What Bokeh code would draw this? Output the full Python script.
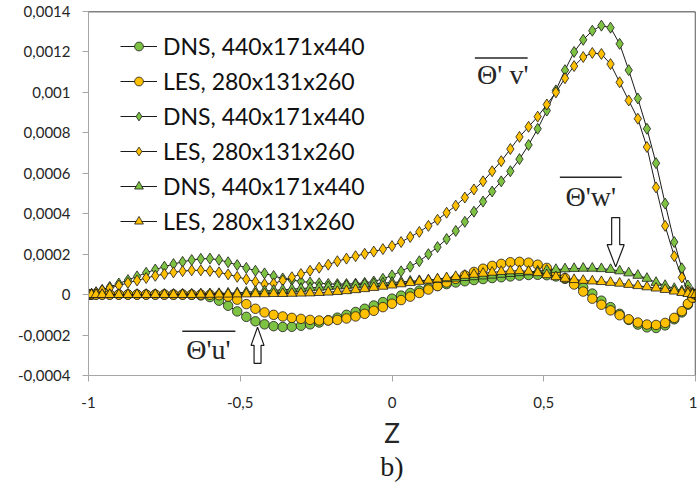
from bokeh.plotting import figure
from bokeh.models import (Range1d, FixedTicker, CustomJSTickFormatter, Legend,
                          LegendItem, Label, Span, Title)
from bokeh.embed import file_html
from bokeh.resources import INLINE

# ---------------- data (values in units of 1e-4) ----------------
z = [-1, -0.99, -0.975, -0.955, -0.93, -0.9, -0.87, -0.84, -0.81, -0.78,
     -0.75, -0.72, -0.69, -0.66, -0.63, -0.6, -0.57, -0.54, -0.51, -0.48,
     -0.45, -0.42, -0.39, -0.36, -0.33, -0.3, -0.27, -0.24, -0.21, -0.18,
     -0.15, -0.12, -0.09, -0.06, -0.03, 0, 0.03, 0.06, 0.09, 0.12,
     0.15, 0.18, 0.21, 0.24, 0.27, 0.3, 0.33, 0.36, 0.39, 0.42,
     0.45, 0.48, 0.51, 0.54, 0.57, 0.6, 0.63, 0.66, 0.69, 0.72,
     0.75, 0.78, 0.81, 0.84, 0.87, 0.9, 0.93, 0.955, 0.975, 0.99,
     1]

dns_u = [0, 0, 0, 0, 0, 0, 0, 0, 0, 0,
         0, 0, 0, -0.01, -0.04, -0.12, -0.3, -0.55, -0.83, -1.1,
         -1.32, -1.47, -1.56, -1.6, -1.59, -1.54, -1.47, -1.38, -1.27, -1.14,
         -1.0, -0.86, -0.7, -0.54, -0.37, -0.2, -0.05, 0.08, 0.2, 0.32,
         0.43, 0.52, 0.6, 0.66, 0.72, 0.77, 0.82, 0.86, 0.9, 0.94,
         0.97, 0.98, 0.96, 0.9, 0.78, 0.6, 0.35, 0.05, -0.3, -0.62,
         -0.95, -1.25, -1.48, -1.62, -1.65, -1.52, -1.22, -0.88, -0.5, -0.17,
         0]
les_u = [0, 0, 0, 0, 0, 0, 0, 0, 0, 0,
         0, 0, 0, 0, 0, -0.01, -0.03, -0.1, -0.25, -0.47,
         -0.7, -0.88, -1.0, -1.08, -1.15, -1.2, -1.25, -1.28, -1.28, -1.25,
         -1.18, -1.08, -0.95, -0.8, -0.62, -0.45, -0.27, -0.1, 0.08, 0.25,
         0.42, 0.6, 0.78, 0.95, 1.12, 1.28, 1.42, 1.52, 1.6, 1.62,
         1.58, 1.48, 1.32, 1.1, 0.82, 0.5, 0.15, -0.2, -0.5, -0.78,
         -1.02, -1.22, -1.38, -1.48, -1.5, -1.4, -1.15, -0.82, -0.45, -0.15,
         0]
dns_v = [0, 0.04, 0.12, 0.24, 0.38, 0.55, 0.72, 0.9, 1.08, 1.24,
         1.38, 1.51, 1.62, 1.71, 1.77, 1.78, 1.72, 1.6, 1.46, 1.32,
         1.18, 1.05, 0.92, 0.8, 0.72, 0.65, 0.6, 0.56, 0.53, 0.52,
         0.52, 0.54, 0.58, 0.65, 0.78, 0.95, 1.15, 1.38, 1.65, 2.0,
         2.35, 2.75, 3.15, 3.6, 4.1, 4.6, 5.1, 5.6, 6.1, 6.7,
         7.4, 8.2, 9.1, 10.1, 11.1, 12.0, 12.6, 13.05, 13.3, 13.2,
         12.4, 11.1, 9.7, 8.2, 6.5, 4.5, 2.6, 1.3, 0.45, 0.12,
         0]
les_v = [0, 0.03, 0.1, 0.2, 0.32, 0.45, 0.58, 0.7, 0.82, 0.93,
         1.02, 1.1, 1.16, 1.2, 1.2, 1.17, 1.1, 1.0, 0.88, 0.76,
         0.64, 0.52, 0.55, 0.7, 0.86, 1.02, 1.18, 1.33, 1.48, 1.65,
         1.78, 1.9, 2.02, 2.13, 2.25, 2.4, 2.6, 2.85, 3.1, 3.4,
         3.7, 4.05, 4.4, 4.8, 5.2, 5.6, 6.1, 6.6, 7.2, 7.8,
         8.3, 8.8, 9.4, 10.0, 10.7, 11.3, 11.75, 11.95, 11.9, 11.4,
         10.5, 9.6, 8.7, 7.3, 5.3, 3.4, 1.9, 0.85, 0.2, 0.05,
         0]
dns_w = [0, 0, 0, 0, 0, 0, 0, 0, 0, 0,
         0.01, 0.01, 0.02, 0.02, 0.03, 0.04, 0.05, 0.07, 0.09, 0.12,
         0.15, 0.18, 0.21, 0.24, 0.27, 0.3, 0.33, 0.36, 0.39, 0.42,
         0.45, 0.48, 0.51, 0.54, 0.57, 0.6, 0.63, 0.66, 0.69, 0.72,
         0.75, 0.78, 0.81, 0.84, 0.88, 0.92, 0.96, 1.0, 1.04, 1.08,
         1.12, 1.16, 1.2, 1.24, 1.27, 1.29, 1.3, 1.3, 1.28, 1.24,
         1.17, 1.07, 0.95, 0.8, 0.6, 0.45, 0.3, 0.18, 0.08, 0.02,
         0]
les_w = [0, 0, 0, 0, 0, 0, 0, 0, 0, 0,
         0, 0, 0, 0, 0.01, 0.01, 0.02, 0.02, 0.03, 0.03,
         0.04, 0.04, 0.05, 0.05, 0.06, 0.07, 0.08, 0.1, 0.12, 0.15,
         0.19, 0.24, 0.29, 0.35, 0.41, 0.47, 0.53, 0.59, 0.65, 0.71,
         0.77, 0.83, 0.89, 0.95, 1.0, 1.05, 1.1, 1.14, 1.17, 1.18,
         1.15, 1.08, 0.98, 0.88, 0.8, 0.74, 0.7, 0.67, 0.64, 0.6,
         0.56, 0.5, 0.44, 0.38, 0.32, 0.25, 0.17, 0.1, 0.05, 0.01,
         0]
UNIT = 1e-4

labels = ["DNS, 440x171x440", "LES, 280x131x260",
          "DNS, 440x171x440", "LES, 280x131x260",
          "DNS, 440x171x440", "LES, 280x131x260"]
x_ticks = [-1, -0.5, 0, 0.5, 1]
y_ticks = [-0.0004, -0.0002, 0, 0.0002, 0.0004, 0.0006, 0.0008, 0.001, 0.0012, 0.0014]

GREEN = "#7DC242"
YELLOW = "#FFC000"
EDGE = "#1a1a1a"

p = figure(width=697, height=488, output_backend="svg", toolbar_location=None,
           x_range=Range1d(-1, 1), y_range=Range1d(-0.0004, 0.0014),
           min_border_left=88, min_border_right=2, min_border_top=11,
           min_border_bottom=113)
p.xgrid.visible = False
p.ygrid.visible = False
p.outline_line_color = None
p.background_fill_color = "white"
p.border_fill_color = "white"

series = [
    (dns_u, "circle", GREEN, 9.5),
    (les_u, "circle", YELLOW, 9.5),
    (dns_v, "diamond", GREEN, 11),
    (les_v, "diamond", YELLOW, 11),
    (dns_w, "triangle", GREEN, 10),
    (les_w, "triangle", YELLOW, 10),
]

items = []
for (vals, marker, color, size), lab in zip(series, labels):
    yv = [v * UNIT for v in vals]
    lr = p.line(z, yv, line_color=EDGE, line_width=1)
    sr = p.scatter(z, yv, marker=marker, size=size,
                   fill_color=color, line_color=EDGE, line_width=0.8)
    items.append(LegendItem(label=lab, renderers=[lr, sr]))

legend = Legend(items=items, location=(32, 139), glyph_width=37, glyph_height=22,
                label_height=30, spacing=5, label_standoff=6, padding=0, margin=0,
                border_line_color=None, background_fill_alpha=0,
                label_text_font="Lato", label_text_font_size="23px",
                label_text_color="#111111")
p.add_layout(legend)

# frame top / right border
p.add_layout(Span(location=0.0014, dimension="width", line_color="black", line_width=1.3))
p.add_layout(Span(location=1, dimension="height", line_color="black", line_width=1.3))

fmt4 = CustomJSTickFormatter(code="return parseFloat(tick.toFixed(4)).toString().replace('.', ',');")
fmt2 = CustomJSTickFormatter(code="return parseFloat(tick.toFixed(2)).toString().replace('.', ',');")
p.yaxis.ticker = FixedTicker(ticks=y_ticks)
p.xaxis.ticker = FixedTicker(ticks=x_ticks)
p.yaxis.formatter = fmt4
p.xaxis.formatter = fmt2
for ax in (p.xaxis, p.yaxis):
    ax.axis_line_color = "#A6A6A6"
    ax.major_tick_line_color = "#A6A6A6"
    ax.major_tick_out = 6
    ax.major_tick_in = 0
    ax.minor_tick_line_color = None
    ax.major_label_text_font = "Lato"
    ax.major_label_text_font_size = "15px"
    ax.major_label_text_color = "#262626"
p.yaxis.major_label_standoff = 12
p.xaxis.major_label_standoff = 15
p.xaxis.axis_label = "Z"
p.xaxis.axis_label_standoff = 6
p.xaxis.axis_label_text_font = "Lato"
p.xaxis.axis_label_text_font_size = "26px"
p.xaxis.axis_label_text_font_style = "normal"
p.xaxis.axis_label_text_color = "#262626"

# panel caption below the axis title
p.add_layout(Title(text="b)", align="center", text_font="Liberation Serif",
                   text_font_size="28px", text_font_style="normal",
                   text_color="#1a1a1a", standoff=-6), "below")

# annotations: labels with overlines and hollow arrows
ann_font = "Liberation Serif"
notes = [("Θ' v'", 0.365, 0.001087, 0.273, 0.447, 0.00117),
         ("Θ'w'", 0.655, 0.000485, 0.553, 0.757, 0.00058),
         ("Θ'u'", -0.605, -0.00027, -0.691, -0.516, -0.000181)]
for txt, tx, ty, ox0, ox1, oy in notes:
    p.add_layout(Label(x=tx, y=ty, text=txt, text_align="center",
                       text_baseline="middle", text_font=ann_font,
                       text_font_size="28px", text_color="#262626"))
    p.segment(x0=[ox0], y0=[oy], x1=[ox1], y1=[oy], line_color="#262626", line_width=1.4)

arrow_up_x = [-0.443, -0.4644, -0.4545, -0.4545, -0.4315, -0.4315, -0.4216]
arrow_up_y = [-0.000161, -0.000251, -0.000251, -0.00034, -0.00034, -0.000251, -0.000251]
arrow_dn_x = [0.737, 0.709, 0.7238, 0.7238, 0.7502, 0.7502, 0.765]
arrow_dn_y = [0.000137, 0.000247, 0.000247, 0.000381, 0.000381, 0.000247, 0.000247]
p.patch(arrow_up_x, arrow_up_y, fill_color="white", line_color="#1a1a1a", line_width=1.2)
p.patch(arrow_dn_x, arrow_dn_y, fill_color="white", line_color="#1a1a1a", line_width=1.2)

open("out.html", "w").write(file_html(p, INLINE))
